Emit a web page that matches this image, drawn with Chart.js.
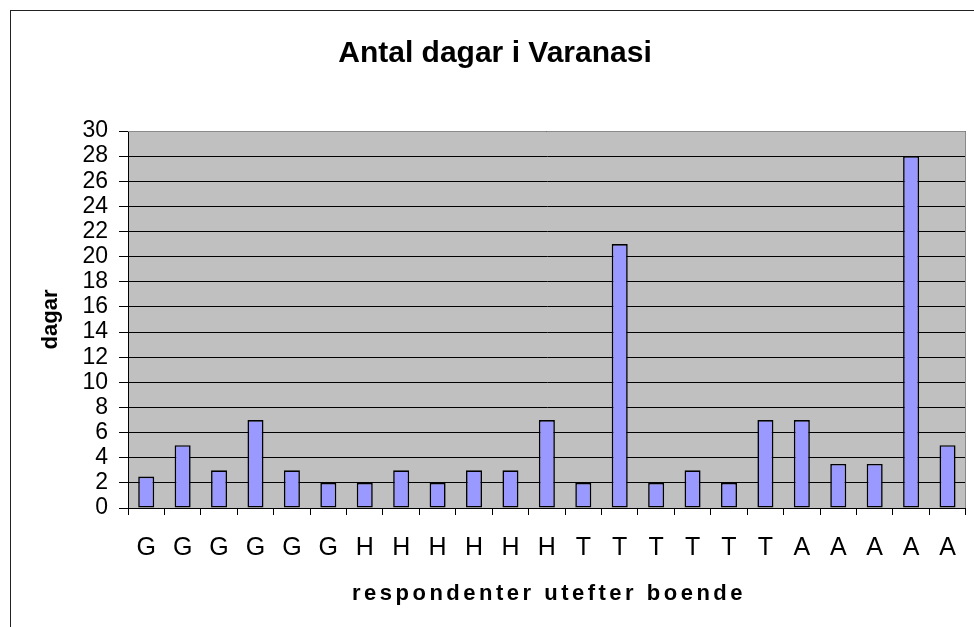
<!DOCTYPE html>
<html>
<head>
<meta charset="utf-8">
<title>Antal dagar i Varanasi</title>
<script src="https://cdn.jsdelivr.net/npm/chart.js@4.4.1/dist/chart.umd.min.js"></script>
<style>
    html, body { margin: 0; padding: 0; background: #fff; }
    #chart { display: block; }
</style>
</head>
<body>
<canvas id="chart" width="974" height="627"></canvas>
<script>
// respondenter grouped by where they stayed
const categories = ['G', 'G', 'G', 'G', 'G', 'G',
                    'H', 'H', 'H', 'H', 'H', 'H',
                    'T', 'T', 'T', 'T', 'T', 'T',
                    'A', 'A', 'A', 'A', 'A'];
const days = [2.5, 5, 3, 7, 3, 2,
              2, 3, 2, 3, 3, 7,
              2, 21, 2, 3, 2, 7,
              7, 3.5, 3.5, 28, 5];
const yMin = 0;
const yMax = 30;
const yStep = 2;

const chartTitle = 'Antal dagar i Varanasi';
const xTitle = 'respondenter utefter boende';
const yTitle = 'dagar';

const FONT = "'Liberation Sans', Arial, sans-serif";
const chartCanvas = document.getElementById('chart');

// grey plot area, outer frame and spaced x title
const excelLook = {
    id: 'excelLook',
    beforeDraw(chart) {
        const ctx = chart.ctx;
        const a = chart.chartArea;
        ctx.save();
        ctx.fillStyle = '#fff';
        ctx.fillRect(0, 0, chart.width, chart.height);
        ctx.strokeStyle = '#222';
        ctx.lineWidth = 1;
        ctx.strokeRect(10.5, 10.5, chart.width + 20, chart.height + 20);
        ctx.fillStyle = '#c0c0c0';
        ctx.fillRect(a.left, a.top, a.right - a.left, a.bottom - a.top);
        ctx.restore();
    },
    afterDraw(chart) {
        const ctx = chart.ctx;
        const a = chart.chartArea;
        ctx.save();
        // top and right edge of the plot area
        ctx.strokeStyle = '#8a8a8a';
        ctx.lineWidth = 1;
        ctx.beginPath();
        ctx.moveTo(a.left, Math.round(a.top) + 0.5);
        ctx.lineTo(Math.round(a.right) - 0.5, Math.round(a.top) + 0.5);
        ctx.lineTo(Math.round(a.right) - 0.5, a.bottom);
        ctx.stroke();

        // x axis title, drawn here to get the wide letter spacing
        ctx.font = 'bold 22px ' + FONT;
        if ('letterSpacing' in ctx) ctx.letterSpacing = '3.5px';
        ctx.fillStyle = '#000';
        ctx.textAlign = 'center';
        ctx.textBaseline = 'middle';
        ctx.fillText(xTitle, 549, 594);
        ctx.restore();
    }
};

const chart = new Chart(chartCanvas, {
    type: 'bar',
    data: {
        labels: categories,
        datasets: [{
            label: yTitle,
            data: days,
            backgroundColor: '#9999ff',
            borderColor: '#000',
            borderWidth: 1.6,
            borderSkipped: false,
            barPercentage: 0.44,
            categoryPercentage: 1
        }]
    },
    options: {
        responsive: false,
        animation: false,
        devicePixelRatio: 1,
        layout: { padding: { left: 22, top: 0, right: 6, bottom: 0 } },
        plugins: {
            legend: { display: false },
            tooltip: { enabled: false },
            title: {
                display: true,
                text: chartTitle,
                color: '#000',
                font: { family: FONT, size: 30, weight: 'bold' },
                padding: { top: 35.5, bottom: 59.5 }
            }
        },
        scales: {
            x: {
                grid: {
                    offset: true,
                    drawOnChartArea: false,
                    drawTicks: true,
                    tickLength: 7,
                    color: '#000'
                },
                border: { display: true, color: '#000', width: 1 },
                ticks: {
                    color: '#000',
                    font: { family: FONT, size: 25 },
                    padding: 18,
                    maxRotation: 0,
                    autoSkip: false
                },
                afterFit(scale) { scale.height = 119; }
            },
            y: {
                min: yMin,
                max: yMax,
                grid: {
                    color: '#000',
                    lineWidth: 1,
                    drawTicks: true,
                    tickLength: 9
                },
                border: { display: true, color: '#000', width: 1 },
                ticks: {
                    stepSize: yStep,
                    autoSkip: false,
                    color: '#000',
                    font: { family: FONT, size: 23 },
                    padding: 11
                },
                title: {
                    display: true,
                    text: yTitle,
                    color: '#000',
                    font: { family: FONT, size: 22, weight: 'bold' },
                    padding: { top: 16, bottom: 0 }
                },
                afterFit(scale) { scale.width = 106; }
            }
        }
    },
    plugins: [excelLook]
});
</script>
</body>
</html>
